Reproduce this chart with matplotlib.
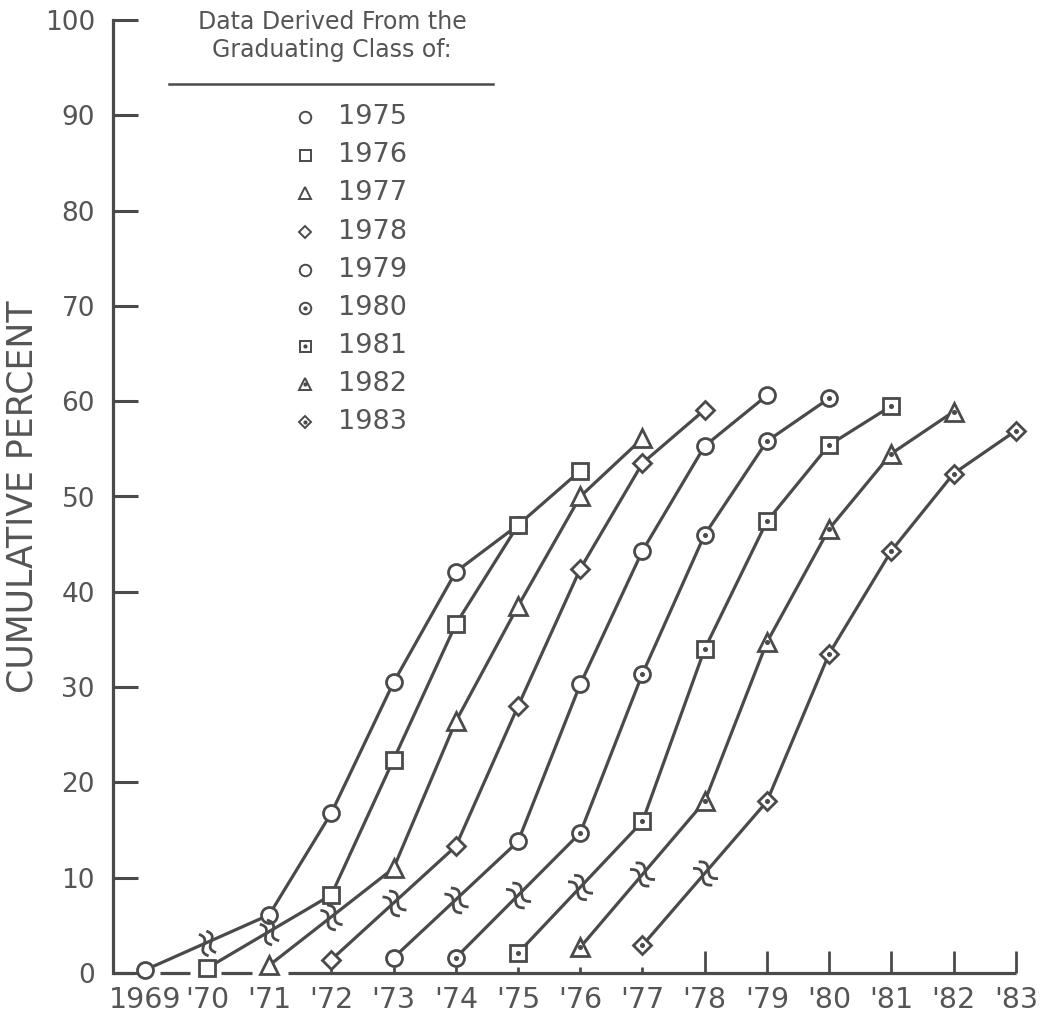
import numpy as np
import matplotlib.pyplot as plt
from matplotlib.path import Path

# cumulative percent for each graduating class; the first point sits
# before the break in the time scale
classes = ["1975", "1976", "1977", "1978", "1979", "1980", "1981", "1982", "1983"]
years_1975 = [1969, 1971, 1972, 1973, 1974, 1975]
years_1976 = [1970, 1972, 1973, 1974, 1975, 1976]
years_1977 = [1971, 1973, 1974, 1975, 1976, 1977]
years_1978 = [1972, 1974, 1975, 1976, 1977, 1978]
years_1979 = [1973, 1975, 1976, 1977, 1978, 1979]
years_1980 = [1974, 1976, 1977, 1978, 1979, 1980]
years_1981 = [1975, 1977, 1978, 1979, 1980, 1981]
years_1982 = [1976, 1978, 1979, 1980, 1981, 1982]
years_1983 = [1977, 1979, 1980, 1981, 1982, 1983]

pct_1975 = [0.3, 6.1, 16.8, 30.5, 42.1, 47.0]
pct_1976 = [0.5, 8.2, 22.4, 36.6, 47.0, 52.7]
pct_1977 = [0.8, 11.0, 26.4, 38.5, 50.0, 56.1]
pct_1978 = [1.4, 13.3, 28.0, 42.4, 53.5, 59.1]
pct_1979 = [1.6, 13.8, 30.3, 44.3, 55.3, 60.6]
pct_1980 = [1.6, 14.7, 31.4, 46.0, 55.8, 60.3]
pct_1981 = [2.1, 15.9, 34.0, 47.4, 55.4, 59.5]
pct_1982 = [2.7, 18.0, 34.7, 46.6, 54.5, 58.9]
pct_1983 = [2.9, 18.0, 33.5, 44.3, 52.4, 56.9]

tick_years = list(range(1969, 1984))
tick_labels = ["1969", "'70", "'71", "'72", "'73", "'74", "'75", "'76", "'77",
               "'78", "'79", "'80", "'81", "'82", "'83"]
y_ticks = list(range(0, 101, 10))

all_years = [years_1975, years_1976, years_1977, years_1978, years_1979,
             years_1980, years_1981, years_1982, years_1983]
all_pct = [pct_1975, pct_1976, pct_1977, pct_1978, pct_1979,
           pct_1980, pct_1981, pct_1982, pct_1983]

INK = "#4a4a4a"
TXT = "#555555"
markers = ["o", "s", "^", "D", "o", "o", "s", "^", "D"]
msizes = [11.5, 11, 12.5, 9, 11.5, 11.5, 11, 12.5, 9]
dotted = [False, False, False, False, False, True, True, True, True]

plt.rcParams["font.family"] = ["DejaVu Sans"]

fig = plt.figure(figsize=(10.49, 10.21), dpi=100)
ax = fig.add_axes([113 / 1049, 48 / 1021, 909 / 1049, 953 / 1021])
ax.set_xlim(1968.49, 1983.1)
ax.set_ylim(0, 100)


def break_path(angle):
    # two small wavy strokes, turned to sit across the line
    t = np.linspace(-0.5, 0.5, 25)
    verts, codes = [], []
    for off in (-0.17, 0.17):
        xs = off + 0.14 * np.sin(2 * np.pi * t)
        for i, (x, y) in enumerate(zip(xs, t)):
            verts.append((x, y))
            codes.append(Path.MOVETO if i == 0 else Path.LINETO)
    verts = np.array(verts)
    c, s = np.cos(angle), np.sin(angle)
    rot = np.array([[c, -s], [s, c]])
    return Path(verts @ rot.T, codes)


for k, (xs, ys) in enumerate(zip(all_years, all_pct)):
    ax.plot(xs, ys, color=INK, lw=2.3, zorder=3, solid_capstyle="round")
    ax.plot(xs, ys, ls="none", marker=markers[k], ms=msizes[k],
            mfc="white", mec=INK, mew=2.0, zorder=4, clip_on=False)
    if dotted[k]:
        ax.plot(xs, ys, ls="none", marker="o", ms=2.6, mfc=INK, mec=INK,
                zorder=5, clip_on=False)
    # break in the first segment
    p0 = ax.transData.transform((xs[0], ys[0]))
    p1 = ax.transData.transform((xs[1], ys[1]))
    ang = np.arctan2(p1[1] - p0[1], p1[0] - p0[0])
    mx = (xs[0] + xs[1]) / 2
    my = (ys[0] + ys[1]) / 2
    ax.plot([mx], [my], ls="none", marker=break_path(ang), ms=18,
            mfc="none", mec=INK, mew=2.0, zorder=5)

# baseline, interrupted around the first points
for a, b in [(1968.49, 1968.82), (1969.24, 1969.72), (1970.23, 1970.72),
             (1971.3, 1983.0)]:
    ax.plot([a, b], [0, 0], color=INK, lw=2.3, clip_on=False, zorder=2,
            solid_capstyle="butt")

for side in ["top", "right", "bottom"]:
    ax.spines[side].set_visible(False)
ax.spines["left"].set_color(INK)
ax.spines["left"].set_linewidth(2.3)

ax.set_yticks(y_ticks)
ax.set_yticklabels([str(v) for v in y_ticks])
ax.tick_params(axis="y", direction="in", length=18, width=2.2, color=INK,
               labelsize=19, labelcolor=TXT, pad=13)

ax.set_xticks(tick_years)
ax.set_xticklabels(tick_labels)
ax.tick_params(axis="x", direction="in", width=2.0, color=INK,
               labelsize=20.5, labelcolor=TXT, pad=9)
for yr, tick in zip(tick_years, ax.xaxis.get_major_ticks()):
    if yr <= 1971:
        tick.tick1line.set_visible(False)
    elif yr <= 1977:
        tick.tick1line.set_markersize(4)
    else:
        tick.tick1line.set_markersize(16)

fig.text(0.021, 0.513, "CUMULATIVE PERCENT", rotation=90, ha="center",
         va="center", fontsize=25, color=TXT)

# key
ax.text(0.241, 0.983, "Data Derived From the\nGraduating Class of:",
        transform=ax.transAxes, ha="center", va="center", fontsize=17,
        color=TXT, linespacing=1.2)
ax.plot([0.062, 0.418], [0.933, 0.933], transform=ax.transAxes, color=INK,
        lw=1.8, clip_on=False)
for k, name in enumerate(classes):
    ky = 0.898 - k * 0.04
    ax.plot([0.211], [ky], transform=ax.transAxes, ls="none",
            marker=markers[k], ms=msizes[k] * 0.72, mfc="white", mec=INK,
            mew=1.4, clip_on=False)
    if dotted[k]:
        ax.plot([0.211], [ky], transform=ax.transAxes, ls="none", marker="o",
                ms=2.0, mfc=INK, mec=INK, clip_on=False)
    ax.text(0.2475, ky, name, transform=ax.transAxes, ha="left",
            va="center", fontsize=19.5, color=TXT)

fig.savefig("out.png", dpi=100, facecolor="white")
